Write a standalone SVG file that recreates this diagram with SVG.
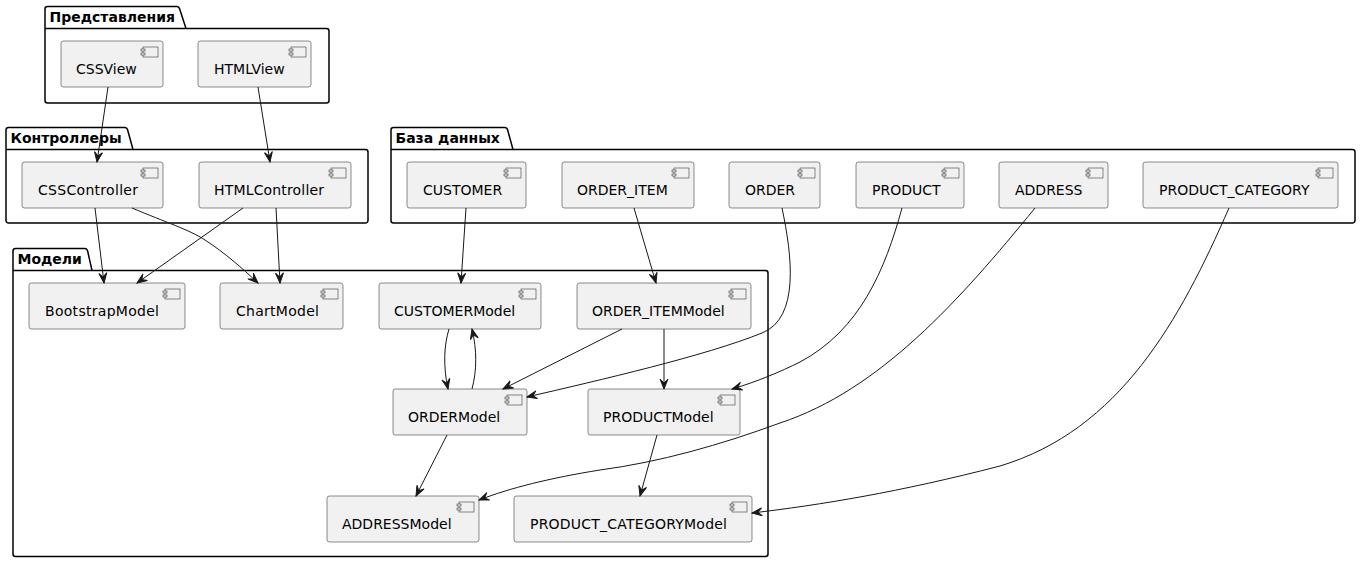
<svg xmlns="http://www.w3.org/2000/svg" width="1361" height="563" viewBox="0 0 1361 563">
<style>
.pkg{fill:none;stroke:#000;stroke-width:1.5}
.pt{font-family:"DejaVu Sans","Liberation Sans",sans-serif;font-size:14px;font-weight:bold;fill:#000}
.box{fill:#F1F1F1;stroke:#181818;stroke-width:0.5}
.ic{fill:#F1F1F1;stroke:#181818;stroke-width:0.5}
.lb{font-family:"DejaVu Sans","Liberation Sans",sans-serif;font-size:14px;fill:#000}
.e{fill:none;stroke:#181818;stroke-width:1;marker-end:url(#arr)}
</style>
<defs>
<marker id="arr" viewBox="-11 -6 12 12" refX="0" refY="0" markerWidth="12" markerHeight="12" markerUnits="userSpaceOnUse" orient="auto">
<path d="M0,0 L-10,-4 L-6,0 L-10,4 Z" fill="#181818" stroke="#181818" stroke-width="1" stroke-linejoin="miter"/>
</marker>
<g id="icon">
<rect x="-20" y="6" width="15" height="10" class="ic"/>
<rect x="-22" y="8" width="4" height="2" class="ic"/>
<rect x="-22" y="12" width="4" height="2" class="ic"/>
</g>
</defs>
<rect width="1361" height="563" fill="#fff"/>

<g id="pkg-views">
<path class="pkg" d="M47.5,6.5 L177,6.5 A3,3 0 0 1 179.5,8.5 L186,28.5 L326.5,28.5 A2.5,2.5 0 0 1 329,31 L329,100.5 A2.5,2.5 0 0 1 326.5,103 L47.5,103 A2.5,2.5 0 0 1 45,100.5 L45,9 A2.5,2.5 0 0 1 47.5,6.5 Z M45,28.5 L186,28.5"/>
<text class="pt" x="49.5" y="21.5">Представления</text>
</g>
<g id="pkg-controllers">
<path class="pkg" d="M8.5,127.5 L125,127.5 A3,3 0 0 1 127.5,129.5 L133,149.5 L365.5,149.5 A2.5,2.5 0 0 1 368,152 L368,220.5 A2.5,2.5 0 0 1 365.5,223 L8.5,223 A2.5,2.5 0 0 1 6,220.5 L6,130 A2.5,2.5 0 0 1 8.5,127.5 Z M6,149.5 L133,149.5"/>
<text class="pt" x="10.5" y="142.5">Контроллеры</text>
</g>
<g id="pkg-db">
<path class="pkg" d="M393.5,127.5 L505,127.5 A3,3 0 0 1 507.5,129.5 L513,149.5 L1352.5,149.5 A2.5,2.5 0 0 1 1355,152 L1355,220.5 A2.5,2.5 0 0 1 1352.5,223 L393.5,223 A2.5,2.5 0 0 1 391,220.5 L391,130 A2.5,2.5 0 0 1 393.5,127.5 Z M391,149.5 L513,149.5"/>
<text class="pt" x="395.5" y="142.5">База данных</text>
</g>
<g id="pkg-models">
<path class="pkg" d="M15.5,248.5 L85,248.5 A3,3 0 0 1 87.5,250.5 L92,270.5 L765.5,270.5 A2.5,2.5 0 0 1 768,273 L768,554 A2.5,2.5 0 0 1 765.5,556.5 L15.5,556.5 A2.5,2.5 0 0 1 13,554 L13,251 A2.5,2.5 0 0 1 15.5,248.5 Z M13,270.5 L92,270.5"/>
<text class="pt" x="17.5" y="263.5">Модели</text>
</g>

<g id="CSSView"><rect class="box" x="61" y="41" width="102" height="46" rx="2.5"/><use href="#icon" x="163" y="41"/><text class="lb" x="76" y="74">CSSView</text></g>
<g id="HTMLView"><rect class="box" x="198" y="41" width="113" height="46" rx="2.5"/><use href="#icon" x="311" y="41"/><text class="lb" x="214" y="74">HTMLView</text></g>
<g id="CSSController"><rect class="box" x="22" y="162" width="141" height="46" rx="2.5"/><use href="#icon" x="163" y="162"/><text class="lb" x="38" y="195" textLength="100" lengthAdjust="spacing">CSSController</text></g>
<g id="HTMLController"><rect class="box" x="199" y="162" width="152" height="46" rx="2.5"/><use href="#icon" x="351" y="162"/><text class="lb" x="214" y="195" textLength="110" lengthAdjust="spacing">HTMLController</text></g>
<g id="CUSTOMER"><rect class="box" x="407" y="162" width="119" height="46" rx="2.5"/><use href="#icon" x="526" y="162"/><text class="lb" x="423" y="195">CUSTOMER</text></g>
<g id="ORDER_ITEM"><rect class="box" x="562" y="162" width="132" height="46" rx="2.5"/><use href="#icon" x="694" y="162"/><text class="lb" x="577" y="195">ORDER_ITEM</text></g>
<g id="ORDER"><rect class="box" x="729" y="162" width="91" height="46" rx="2.5"/><use href="#icon" x="820" y="162"/><text class="lb" x="745" y="195">ORDER</text></g>
<g id="PRODUCT"><rect class="box" x="856" y="162" width="108" height="46" rx="2.5"/><use href="#icon" x="964" y="162"/><text class="lb" x="872" y="195">PRODUCT</text></g>
<g id="ADDRESS"><rect class="box" x="999" y="162" width="109" height="46" rx="2.5"/><use href="#icon" x="1108" y="162"/><text class="lb" x="1015" y="195">ADDRESS</text></g>
<g id="PRODUCT_CATEGORY"><rect class="box" x="1143" y="162" width="195" height="46" rx="2.5"/><use href="#icon" x="1338" y="162"/><text class="lb" x="1159" y="195">PRODUCT_CATEGORY</text></g>
<g id="BootstrapModel"><rect class="box" x="29" y="283" width="156" height="46" rx="2.5"/><use href="#icon" x="185" y="283"/><text class="lb" x="45" y="316" textLength="114" lengthAdjust="spacing">BootstrapModel</text></g>
<g id="ChartModel"><rect class="box" x="220" y="283" width="123" height="46" rx="2.5"/><use href="#icon" x="343" y="283"/><text class="lb" x="236" y="316" textLength="83" lengthAdjust="spacing">ChartModel</text></g>
<g id="CUSTOMERModel"><rect class="box" x="379" y="283" width="162" height="46" rx="2.5"/><use href="#icon" x="541" y="283"/><text class="lb" x="394" y="316">CUSTOMERModel</text></g>
<g id="ORDER_ITEMModel"><rect class="box" x="577" y="283" width="174" height="46" rx="2.5"/><use href="#icon" x="751" y="283"/><text class="lb" x="592" y="316">ORDER_ITEMModel</text></g>
<g id="ORDERModel"><rect class="box" x="393" y="389" width="134" height="46" rx="2.5"/><use href="#icon" x="527" y="389"/><text class="lb" x="408" y="422">ORDERModel</text></g>
<g id="PRODUCTModel"><rect class="box" x="588" y="389" width="152" height="46" rx="2.5"/><use href="#icon" x="740" y="389"/><text class="lb" x="603" y="422">PRODUCTModel</text></g>
<g id="ADDRESSModel"><rect class="box" x="327" y="496" width="152" height="46" rx="2.5"/><use href="#icon" x="479" y="496"/><text class="lb" x="342" y="529">ADDRESSModel</text></g>
<g id="PRODUCT_CATEGORYModel"><rect class="box" x="514" y="496" width="238" height="46" rx="2.5"/><use href="#icon" x="752" y="496"/><text class="lb" x="530" y="529" textLength="197" lengthAdjust="spacing">PRODUCT_CATEGORYModel</text></g>

<g id="connectors">
<path class="e" d="M108,87 L97,162"/>
<path class="e" d="M258,87 L270,162"/>
<path class="e" d="M95,208 L104,283"/>
<path class="e" d="M132,208 C165,222 190,230 205,240 C225,253 242,268 258,283"/>
<path class="e" d="M243,208 L137,283"/>
<path class="e" d="M276,208 L280,283"/>
<path class="e" d="M466,208 L461,283"/>
<path class="e" d="M634,208 L656,283"/>
<path class="e" d="M782,208 C792,255 800,318 762,333 C705,356 600,380 527,397"/>
<path class="e" d="M902,208 C885,270 860,330 800,362 C780,372 756,382 732,389"/>
<path class="e" d="M1035,208 C960,300 880,390 780,423 C720,445 660,462 600,470 C550,478 510,488 479,500"/>
<path class="e" d="M1229,208 C1180,320 1120,430 1000,466 C900,492 820,505 752,513"/>
<path class="e" d="M449,329 C444,345 443,366 448,389"/>
<path class="e" d="M472,389 C477,370 477,350 472,329"/>
<path class="e" d="M622,329 L503,389"/>
<path class="e" d="M664,329 L664,389"/>
<path class="e" d="M447,435 L416,496"/>
<path class="e" d="M657,435 L640,496"/>
</g>
</svg>
